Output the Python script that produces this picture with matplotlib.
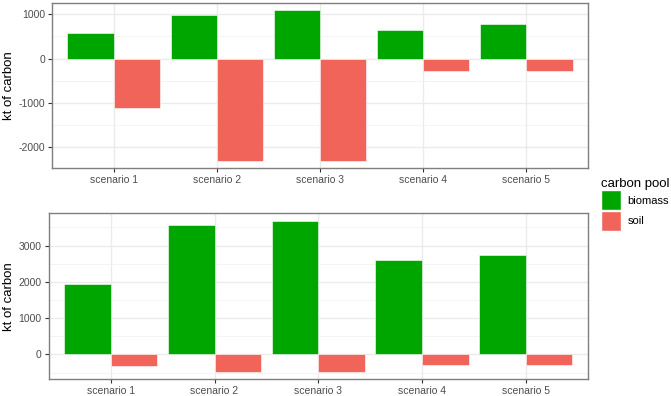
import numpy as np
import matplotlib.pyplot as plt
from matplotlib.patches import Patch
from matplotlib.ticker import MultipleLocator

plt.rcParams['font.family'] = ['Liberation Sans', 'DejaVu Sans']
plt.rcParams['axes.unicode_minus'] = False

scenarios = ['scenario 1', 'scenario 2', 'scenario 3', 'scenario 4', 'scenario 5']
biomass_top = [577, 982, 1088, 652, 773]
soil_top = [-1124, -2306, -2306, -283, -283]
biomass_bottom = [1927, 3570, 3680, 2615, 2736]
soil_bottom = [-311, -476, -476, -283, -283]

green = '#00A600'
red = '#F0645A'

fig = plt.figure(figsize=(6.71, 3.96), dpi=100)
W, H = 671, 396
ax1 = fig.add_axes([52 / W, 1 - 168 / H, (588 - 52) / W, (168 - 3) / H])
ax2 = fig.add_axes([48.5 / W, 1 - 379.3 / H, (588 - 48.5) / W, (379.3 - 213.3) / H])


def draw(ax, bio, soil, left_px):
    x = np.arange(len(scenarios))
    w = 0.45
    ax.bar(x - w / 2, bio, w, color=green, edgecolor='white', linewidth=0.4, zorder=3)
    ax.bar(x + w / 2, soil, w, color=red, edgecolor='white', linewidth=0.4, zorder=3)
    vals = list(bio) + list(soil) + [0]
    lo, hi = min(vals), max(vals)
    pad = (hi - lo) * 0.05
    ax.set_ylim(lo - pad, hi + pad)
    ax.set_xlim(-0.6, len(scenarios) - 0.4)
    ax.set_xticks(x)
    ax.set_xticklabels(scenarios)
    ax.yaxis.set_major_locator(MultipleLocator(1000))
    ax.yaxis.set_minor_locator(MultipleLocator(500))
    ax.grid(which='major', color='#EBEBEB', linewidth=1.0, zorder=0)
    ax.grid(which='minor', axis='y', color='#F2F2F2', linewidth=0.6, zorder=0)
    ax.set_axisbelow(True)
    ax.tick_params(which='major', length=3, color='#333333', labelsize=7.5, labelcolor='#4D4D4D', pad=2)
    ax.tick_params(which='minor', length=0)
    for s in ax.spines.values():
        s.set_color('#7F7F7F')
        s.set_linewidth(1.0)
    ax.set_ylabel('kt of carbon', fontsize=9.5)
    ax.yaxis.set_label_coords((15 - left_px) / (588 - left_px), 0.5)


draw(ax1, biomass_top, soil_top, 52)
draw(ax2, biomass_bottom, soil_bottom, 48.5)

handles = [Patch(facecolor=green, edgecolor='white', label='biomass'),
           Patch(facecolor=red, edgecolor='white', label='soil')]
leg = fig.legend(handles=handles, title='carbon pool', loc='upper left',
                 bbox_to_anchor=(599 / W, 1 - 176 / H), frameon=False,
                 fontsize=8, title_fontsize=9.5, handlelength=1.8, handleheight=2.4,
                 handletextpad=0.6, labelspacing=0.05, borderpad=0.15, borderaxespad=0)
leg._legend_box.align = 'left'

fig.savefig('out.png', dpi=100)
